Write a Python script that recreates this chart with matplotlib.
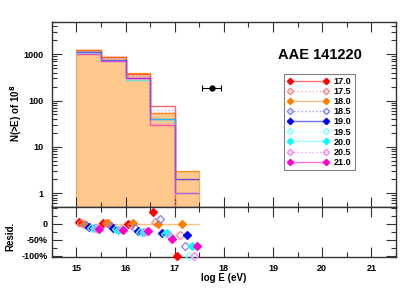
import matplotlib.pyplot as plt
import numpy as np
from matplotlib.lines import Line2D
from matplotlib.ticker import FixedLocator, LogLocator, MultipleLocator, NullFormatter

plt.rcParams['font.family'] = ['Liberation Sans', 'DejaVu Sans']
plt.rcParams['font.weight'] = 'bold'

# histogram bins in log E
bin_edges = [15.0, 15.5, 16.0, 16.5, 17.0, 17.5]

# legend labels (one series each)
series_labels = ['17.0', '17.5', '18.0', '18.5', '19.0', '19.5', '20.0', '20.5', '21.0']

# N(>E) per bin for every series
n_170 = [1270, 890, 380, 76, 0]
n_175 = [1250, 900, 380, 57, 1.95]
n_180 = [1220, 880, 390, 55, 3.0]
n_185 = [1160, 830, 345, 63, 1.0]
n_190 = [1110, 760, 300, 39, 2.0]
n_195 = [1070, 730, 290, 37, 0]
n_200 = [1070, 720, 285, 39, 1.0]
n_205 = [1050, 730, 290, 33, 0]
n_210 = [1040, 710, 300, 29, 1.0]

# residuals relative to the 18.0 series
r_170 = [0.04, 0.01, -0.02, 0.37, -1.0]
r_175 = [0.03, 0.03, -0.03, 0.04, -0.35]
r_180 = [0.0, 0.02, 0.01, 0.0, 0.0]
r_185 = [-0.05, -0.06, -0.12, 0.14, -0.68]
r_190 = [-0.09, -0.14, -0.23, -0.29, -0.35]
r_195 = [-0.12, -0.17, -0.26, -0.33, -1.0]
r_200 = [-0.12, -0.18, -0.27, -0.30, -0.68]
r_205 = [-0.14, -0.17, -0.25, -0.39, -1.0]
r_210 = [-0.15, -0.19, -0.22, -0.46, -0.68]

# measured point
point_x = [17.75]
point_y = [190]
point_xerr = [0.2]

counts = [n_170, n_175, n_180, n_185, n_190, n_195, n_200, n_205, n_210]
resids = [r_170, r_175, r_180, r_185, r_190, r_195, r_200, r_205, r_210]

marker_colors = ['#FF0000', '#FF8080', '#FF8000', '#8080FF', '#0000FF',
                 '#80FFFF', '#00FFFF', '#FF80FF', '#FF00CC']
line_colors = ['#FF7070', '#FFB0B0', '#FFC080', '#A0A0FF', '#7070FF',
               '#C0FFFF', '#A0FFFF', '#FFA0FF', '#FF70E0']
is_open = [False, True, False, True, False, True, False, True, False]

fig = plt.figure(figsize=(4.15, 2.97), dpi=100)
ax1 = fig.add_axes([0.125, 0.303, 0.829, 0.623])
ax2 = fig.add_axes([0.125, 0.135, 0.829, 0.168], sharex=ax1)

floor = 0.01
# filled reference histogram (18.0)
ax1.stairs(np.maximum(n_180, floor), bin_edges, baseline=floor, fill=True,
           color='#FFC88C', zorder=1)
ax1.stairs(np.maximum(n_180, floor), bin_edges, baseline=floor,
           color='#FFA850', lw=0.8, zorder=1.5)

for k, vals in enumerate(counts):
    ax1.stairs(np.maximum(vals, floor), bin_edges, baseline=None,
               color=marker_colors[k], alpha=0.6, lw=1.0,
               ls=':' if is_open[k] else '-', zorder=2)

ax1.errorbar(point_x, point_y, xerr=point_xerr, fmt='o', color='black',
             ms=3.5, lw=0.8, capsize=2, capthick=0.8, zorder=5)

ax1.set_yscale('log')
ax1.set_ylim(0.5, 5000)
ax1.set_xlim(14.5, 21.5)

ax1.text(0.779, 0.822, 'AAE 141220', transform=ax1.transAxes, fontsize=10.5,
         fontweight='bold', ha='center', va='center')

handles = []
for k in range(len(series_labels)):
    handles.append(Line2D([], [], color=line_colors[k], lw=1.0,
                          ls=':' if is_open[k] else '-', marker='D', ms=3.2,
                          markeredgecolor=marker_colors[k],
                          markerfacecolor='none' if is_open[k] else marker_colors[k]))
leg = ax1.legend(handles, series_labels, loc='upper left',
                 bbox_to_anchor=(0.674, 0.719), borderaxespad=0,
                 fontsize=6.5, numpoints=2, handlelength=4.6,
                 handletextpad=0.6, labelspacing=0.12, borderpad=0.35,
                 fancybox=False, framealpha=1, edgecolor='#808080')
leg.get_frame().set_linewidth(0.8)

# residual panel
ax2.plot(bin_edges[0:1] + bin_edges[-1:], [0, 0], color='#FFC080', lw=1.0, zorder=1)
for k, vals in enumerate(resids):
    xs = np.array(bin_edges[:-1]) + 0.05 * (k + 1)
    ax2.plot(xs, vals, ls='none', marker='D', ms=3.6,
             markeredgecolor=marker_colors[k], mew=0.9,
             markerfacecolor='none' if is_open[k] else marker_colors[k],
             zorder=3, clip_on=False)
ax2.set_ylim(-1.03, 0.52)

for ax in (ax1, ax2):
    for s in ax.spines.values():
        s.set_color('#333333')
        s.set_linewidth(1.0)
    ax.tick_params(which='both', direction='in', top=True, right=True,
                   colors='#333333', labelcolor='black', labelsize=6.5)
    ax.tick_params(which='major', length=7, width=0.8)
    ax.tick_params(which='minor', length=3.5, width=0.8)

ax1.xaxis.set_major_locator(MultipleLocator(1))
ax1.xaxis.set_minor_locator(MultipleLocator(0.5))
ax1.tick_params(labelbottom=False)
ax1.yaxis.set_major_locator(FixedLocator([1, 10, 100, 1000]))
ax1.set_yticklabels(['1', '10', '100', '1000'])
ax1.yaxis.set_minor_locator(LogLocator(subs=np.arange(2, 10)))
ax1.yaxis.set_minor_formatter(NullFormatter())
ax1.tick_params(axis='y', pad=6)

ax2.yaxis.set_major_locator(FixedLocator([-1.0, -0.5, 0.0]))
ax2.set_yticklabels(['-100%', '-50%', '0'])
ax2.yaxis.set_minor_locator(MultipleLocator(0.25))
ax2.tick_params(axis='y', pad=3)
ax2.tick_params(axis='x', pad=5)

fig.text(16 / 415, 1 - 113 / 297, 'N(>E) of 10$^8$', rotation=90, fontsize=7,
         ha='center', va='center')
fig.text(10 / 415, 1 - 236 / 297, 'Resid.', rotation=90, fontsize=7,
         ha='center', va='center')
fig.text(224 / 415, 1 - 278 / 297, 'log E (eV)', fontsize=7,
         ha='center', va='center')

fig.savefig('out.png', dpi=100)
